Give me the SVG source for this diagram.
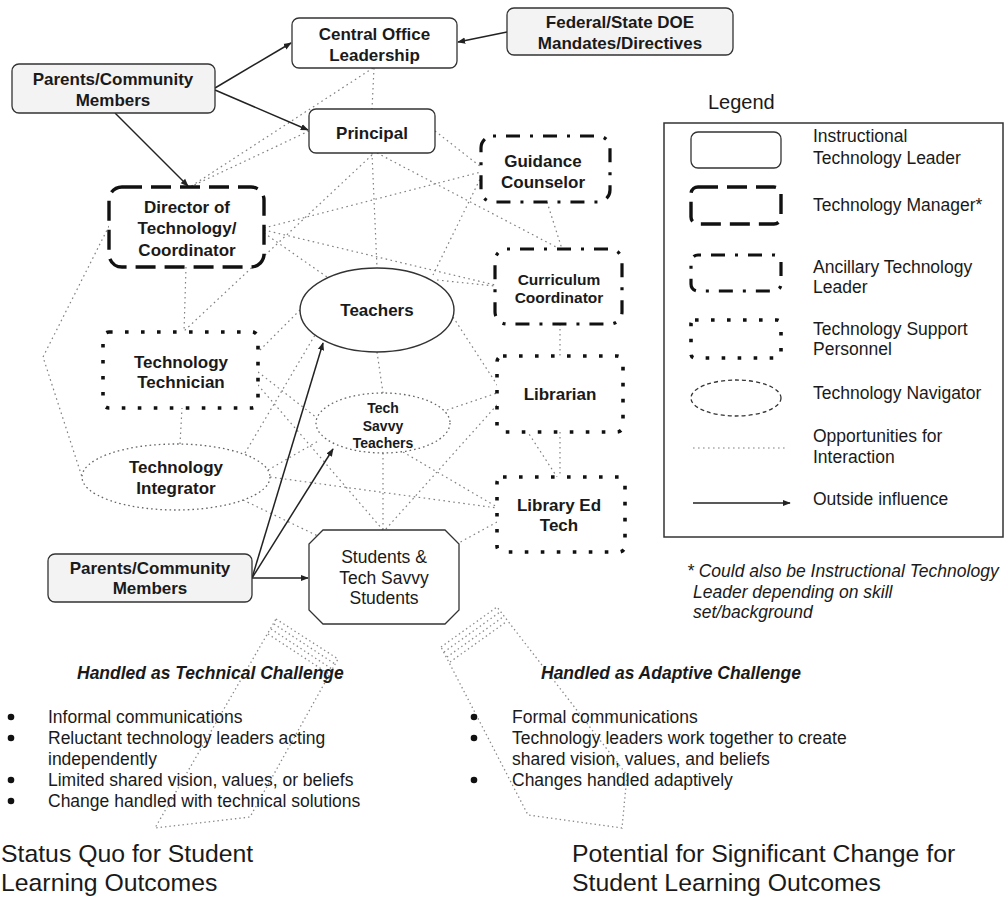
<svg xmlns="http://www.w3.org/2000/svg" width="1008" height="897" viewBox="0 0 1008 897">
  <defs>
    <marker id="arrowhead" viewBox="0 0 10 10" refX="9" refY="5" markerWidth="8" markerHeight="8" markerUnits="userSpaceOnUse" orient="auto">
      <path d="M0,1 L10,5 L0,9 z" fill="#222"/>
    </marker>
    <style>
      text { font-family: "Liberation Sans", Arial, sans-serif; fill: #1a1a1a; }
      .lbl { font-size: 17px; font-weight: bold; text-anchor: middle; }
      .lbl-sm { font-size: 15.5px; font-weight: bold; text-anchor: middle; }
      .lbl-xs { font-size: 14px; font-weight: bold; text-anchor: middle; }
      .reg { font-size: 17.5px; }
      .regc { font-size: 17.5px; text-anchor: middle; }
      .head { font-size: 17.5px; font-weight: bold; font-style: italic; }
      .big { font-size: 24.8px; }
      .note { font-size: 17.5px; font-style: italic; }
      .plain { fill: #fff; stroke: #333; stroke-width: 1.3; }
      .outside { fill: #f3f3f3; stroke: #333; stroke-width: 1.3; }
      .manager { fill: #fff; stroke: #111; stroke-width: 3.4; stroke-dasharray: 20 9; }
      .ancillary { fill: #fff; stroke: #111; stroke-width: 3.2; stroke-dasharray: 3 10 14 10; }
      .support { fill: #fff; stroke: #111; stroke-width: 3.6; stroke-dasharray: 3.6 12.4; }
      .navigator { fill: #fff; stroke: #666; stroke-width: 1.3; stroke-dasharray: 1.6 3; }
      .teachers { fill: #fff; stroke: #333; stroke-width: 1.4; }
      .interact { fill: none; stroke: #808080; stroke-width: 1.2; stroke-dasharray: 1.6 3.4; }
      .influence { fill: none; stroke: #222; stroke-width: 1.5; marker-end: url(#arrowhead); }
      .shift { fill: none; stroke: #888; stroke-width: 1.3; stroke-dasharray: 1.4 3; }
    </style>
  </defs>

  <rect width="1008" height="897" fill="#fff"/>

  <!-- interaction opportunities (dotted) -->
  <g id="interactions" class="interact">
    <line x1="374" y1="68" x2="372" y2="109"/>
    <line x1="373" y1="68" x2="190" y2="187"/>
    <line x1="309" y1="131" x2="190" y2="187"/>
    <line x1="372" y1="153" x2="377" y2="268"/>
    <line x1="372" y1="155" x2="183" y2="332"/>
    <line x1="435" y1="131" x2="481" y2="167"/>
    <line x1="377" y1="153" x2="560" y2="249"/>
    <line x1="264" y1="228" x2="481" y2="172"/>
    <line x1="264" y1="230" x2="495" y2="285"/>
    <line x1="264" y1="233" x2="327" y2="277"/>
    <line x1="186" y1="267" x2="184" y2="332"/>
    <line x1="482" y1="175" x2="433" y2="275"/>
    <line x1="547" y1="202" x2="562" y2="249"/>
    <line x1="437" y1="280" x2="495" y2="286"/>
    <line x1="560" y1="324" x2="560" y2="356"/>
    <line x1="560" y1="432" x2="560" y2="477"/>
    <line x1="453" y1="317" x2="557" y2="477"/>
    <line x1="300" y1="310" x2="258" y2="352"/>
    <line x1="377" y1="352" x2="383" y2="393"/>
    <line x1="447" y1="410" x2="497" y2="393"/>
    <line x1="403" y1="452" x2="497" y2="507"/>
    <line x1="383" y1="453" x2="383" y2="530"/>
    <line x1="497" y1="405" x2="385" y2="530"/>
    <line x1="497" y1="522" x2="455" y2="545"/>
    <line x1="270" y1="477" x2="497" y2="508"/>
    <line x1="268" y1="470" x2="320" y2="440"/>
    <line x1="180" y1="444" x2="182" y2="408"/>
    <line x1="245" y1="453" x2="315" y2="335"/>
    <line x1="243" y1="500" x2="320" y2="537"/>
    <line x1="258" y1="372" x2="317" y2="418"/>
    <line x1="258" y1="385" x2="383" y2="530"/>
    <polyline points="109,226 43,357 82,477"/>
  </g>

  <!-- outside influences (solid arrows) -->
  <g id="influences" class="influence">
    <line x1="507" y1="32" x2="458" y2="42"/>
    <line x1="215" y1="88" x2="291" y2="43"/>
    <line x1="215" y1="90" x2="308" y2="130"/>
    <line x1="115" y1="113" x2="188" y2="186"/>
    <line x1="252" y1="578" x2="323" y2="343"/>
    <line x1="252" y1="578" x2="333" y2="449"/>
    <line x1="252" y1="578" x2="308" y2="578"/>
  </g>

  <!-- organisation nodes -->
  <g id="central-office">
    <rect class="plain" x="292" y="18" width="165" height="50" rx="7"/>
    <text class="lbl" x="374.5" y="39.5">Central Office</text>
    <text class="lbl" x="374.5" y="61">Leadership</text>
  </g>
  <g id="doe-mandates">
    <rect class="outside" x="507" y="8" width="226" height="47" rx="7"/>
    <text class="lbl" x="620" y="28">Federal/State DOE</text>
    <text class="lbl" x="620" y="49">Mandates/Directives</text>
  </g>
  <g id="parents-top">
    <rect class="outside" x="12" y="64" width="203" height="49" rx="7"/>
    <text class="lbl" x="113" y="85">Parents/Community</text>
    <text class="lbl" x="113" y="106">Members</text>
  </g>
  <g id="principal">
    <rect class="plain" x="309" y="109" width="126" height="44" rx="7"/>
    <text class="lbl" x="372" y="139">Principal</text>
  </g>
  <g id="guidance-counselor">
    <rect class="ancillary" x="481" y="136" width="129" height="66" rx="12"/>
    <text class="lbl" x="543" y="167">Guidance</text>
    <text class="lbl" x="543" y="188">Counselor</text>
  </g>
  <g id="director">
    <rect class="manager" x="109" y="187" width="155" height="80" rx="13"/>
    <text class="lbl" x="187" y="213">Director of</text>
    <text class="lbl" x="187" y="234">Technology/</text>
    <text class="lbl" x="187" y="256">Coordinator</text>
  </g>
  <g id="curriculum-coordinator">
    <rect class="ancillary" x="495" y="249" width="127" height="75" rx="12"/>
    <text class="lbl-sm" x="559" y="285">Curriculum</text>
    <text class="lbl-sm" x="559" y="303">Coordinator</text>
  </g>
  <g id="teachers">
    <ellipse class="teachers" cx="377" cy="310" rx="77" ry="42"/>
    <text class="lbl" x="377" y="316">Teachers</text>
  </g>
  <g id="technician">
    <rect class="support" x="103" y="332" width="155" height="76" rx="6"/>
    <text class="lbl" x="181" y="368">Technology</text>
    <text class="lbl" x="181" y="388">Technician</text>
  </g>
  <g id="librarian">
    <rect class="support" x="497" y="356" width="126" height="76" rx="6"/>
    <text class="lbl" x="560" y="400">Librarian</text>
  </g>
  <g id="tech-savvy-teachers">
    <ellipse class="navigator" cx="383" cy="423" rx="67" ry="30"/>
    <text class="lbl-xs" x="383" y="413">Tech</text>
    <text class="lbl-xs" x="383" y="431">Savvy</text>
    <text class="lbl-xs" x="383" y="448">Teachers</text>
  </g>
  <g id="integrator">
    <ellipse class="navigator" cx="176" cy="477" rx="94" ry="33"/>
    <text class="lbl" x="176" y="473">Technology</text>
    <text class="lbl" x="176" y="494">Integrator</text>
  </g>
  <g id="library-ed-tech">
    <rect class="support" x="497" y="477" width="128" height="75" rx="6"/>
    <text class="lbl" x="559" y="511">Library Ed</text>
    <text class="lbl" x="559" y="531">Tech</text>
  </g>
  <g id="students">
    <polygon class="plain" points="323,530 445,530 459,544 459,610 445,624 323,624 309,610 309,544"/>
    <text class="regc" x="384" y="563">Students &amp;</text>
    <text class="regc" x="384" y="584">Tech Savvy</text>
    <text class="regc" x="384" y="604">Students</text>
  </g>
  <g id="parents-bottom">
    <rect class="outside" x="48" y="554" width="204" height="48" rx="7"/>
    <text class="lbl" x="150" y="574">Parents/Community</text>
    <text class="lbl" x="150" y="594">Members</text>
  </g>

  <!-- legend -->
  <g id="legend">
    <text class="reg" x="708" y="109" style="font-size:20px">Legend</text>
    <rect x="664" y="123" width="339" height="414" fill="none" stroke="#333" stroke-width="1.5"/>
    <rect class="plain" x="691" y="132" width="90" height="36" rx="7"/>
    <text class="reg" x="813" y="142">Instructional</text>
    <text class="reg" x="813" y="164">Technology Leader</text>
    <rect class="manager" x="691" y="187" width="90" height="37" rx="7"/>
    <text class="reg" x="813" y="211">Technology Manager*</text>
    <rect class="ancillary" x="691" y="255" width="90" height="36" rx="7"/>
    <text class="reg" x="813" y="273">Ancillary Technology</text>
    <text class="reg" x="813" y="293">Leader</text>
    <rect class="support" x="691" y="320" width="90" height="38" rx="4"/>
    <text class="reg" x="813" y="335">Technology Support</text>
    <text class="reg" x="813" y="355">Personnel</text>
    <ellipse cx="736" cy="398" rx="45" ry="18" fill="none" stroke="#333" stroke-width="1.3" stroke-dasharray="4 3"/>
    <text class="reg" x="813" y="399">Technology Navigator</text>
    <line class="interact" x1="693" y1="448" x2="788" y2="448"/>
    <text class="reg" x="813" y="442">Opportunities for</text>
    <text class="reg" x="813" y="463">Interaction</text>
    <line class="influence" x1="693" y1="503" x2="790" y2="503"/>
    <text class="reg" x="813" y="505">Outside influence</text>
  </g>

  <!-- footnote -->
  <g id="footnote">
    <text class="note" x="687" y="577">* Could also be Instructional Technology</text>
    <text class="note" x="693" y="598">Leader depending on skill</text>
    <text class="note" x="693" y="618">set/background</text>
  </g>

  <!-- hollow dotted arrows towards the outcomes -->
  <g id="shift-arrows" class="shift">
    <polygon points="276,619 338,659 250,817 155,828"/>
    <line x1="274" y1="624" x2="335" y2="664"/>
    <line x1="271" y1="629" x2="332" y2="669"/>
    <line x1="268" y1="634" x2="329" y2="674"/>
    <polygon points="441,647 497,607 627,775 622,828 528,815"/>
    <line x1="444" y1="652" x2="500" y2="612"/>
    <line x1="447" y1="657" x2="503" y2="617"/>
    <line x1="450" y1="662" x2="506" y2="622"/>
  </g>

  <!-- technical challenge -->
  <g id="technical-challenge">
    <text class="head" x="77" y="679">Handled as Technical Challenge</text>
    <circle cx="11" cy="717" r="3.3" fill="#111"/>
    <circle cx="11" cy="738" r="3.3" fill="#111"/>
    <circle cx="11" cy="780" r="3.3" fill="#111"/>
    <circle cx="11" cy="801" r="3.3" fill="#111"/>
    <text class="reg" x="48" y="723">Informal communications</text>
    <text class="reg" x="48" y="744">Reluctant technology leaders acting</text>
    <text class="reg" x="48" y="765">independently</text>
    <text class="reg" x="48" y="786">Limited shared vision, values, or beliefs</text>
    <text class="reg" x="48" y="807">Change handled with technical solutions</text>
    <text class="big" x="1" y="862">Status Quo for Student</text>
    <text class="big" x="1" y="891">Learning Outcomes</text>
  </g>

  <!-- adaptive challenge -->
  <g id="adaptive-challenge">
    <text class="head" x="541" y="679">Handled as Adaptive Challenge</text>
    <circle cx="474" cy="717" r="3.3" fill="#111"/>
    <circle cx="474" cy="738" r="3.3" fill="#111"/>
    <circle cx="474" cy="780" r="3.3" fill="#111"/>
    <text class="reg" x="512" y="723">Formal communications</text>
    <text class="reg" x="512" y="744">Technology leaders work together to create</text>
    <text class="reg" x="512" y="765">shared vision, values, and beliefs</text>
    <text class="reg" x="512" y="786">Changes handled adaptively</text>
    <text class="big" x="572" y="862">Potential for Significant Change for</text>
    <text class="big" x="572" y="891">Student Learning Outcomes</text>
  </g>
</svg>
